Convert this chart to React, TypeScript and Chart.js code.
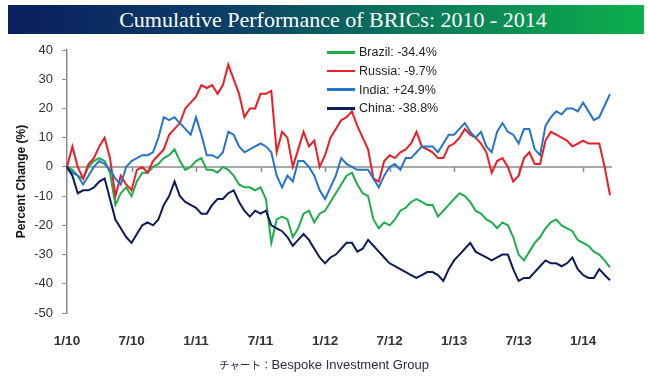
import React, { useEffect, useRef } from "react";
import { Chart, registerables } from "chart.js";
Chart.register(...registerables);

// Half-monthly observation dates
const dates = [
  "2010-01-01","2010-01-16","2010-02-01","2010-02-16","2010-03-01","2010-03-16","2010-04-01","2010-04-16",
  "2010-05-01","2010-05-16","2010-06-01","2010-06-16","2010-07-01","2010-07-16","2010-08-01","2010-08-16",
  "2010-09-01","2010-09-16","2010-10-01","2010-10-16","2010-11-01","2010-11-16","2010-12-01","2010-12-16",
  "2011-01-01","2011-01-16","2011-02-01","2011-02-16","2011-03-01","2011-03-16","2011-04-01","2011-04-16",
  "2011-05-01","2011-05-16","2011-06-01","2011-06-16","2011-07-01","2011-07-16","2011-08-01","2011-08-16",
  "2011-09-01","2011-09-16","2011-10-01","2011-10-16","2011-11-01","2011-11-16","2011-12-01","2011-12-16",
  "2012-01-01","2012-01-16","2012-02-01","2012-02-16","2012-03-01","2012-03-16","2012-04-01","2012-04-16",
  "2012-05-01","2012-05-16","2012-06-01","2012-06-16","2012-07-01","2012-07-16","2012-08-01","2012-08-16",
  "2012-09-01","2012-09-16","2012-10-01","2012-10-16","2012-11-01","2012-11-16","2012-12-01","2012-12-16",
  "2013-01-01","2013-01-16","2013-02-01","2013-02-16","2013-03-01","2013-03-16","2013-04-01","2013-04-16",
  "2013-05-01","2013-05-16","2013-06-01","2013-06-16","2013-07-01","2013-07-16","2013-08-01","2013-08-16",
  "2013-09-01","2013-09-16","2013-10-01","2013-10-16","2013-11-01","2013-11-16","2013-12-01","2013-12-16",
  "2014-01-01","2014-01-16","2014-02-01","2014-02-16","2014-03-01","2014-03-16",
];

const tickDates = ["2010-01-01","2010-07-01","2011-01-01","2011-07-01","2012-01-01","2012-07-01","2013-01-01","2013-07-01","2014-01-01"];
const tickLabels = ["1/10","7/10","1/11","7/11","1/12","7/12","1/13","7/13","1/14"];

const seriesNames = ["Brazil","Russia","India","China"];
const finalChanges = ["-34.4%","-9.7%","+24.9%","-38.8%"];
const seriesColors = ["#1fad4b","#ee1c24","#2574c8","#0b1c58"];

const brazil = [
  0,-1,-3,-4,0,2,3,2,-2,-13,-9,-7,-10,-5,-2,-2,0,1,3,4,6,2,-1,0,2,3,-1,-1,-2,0,-1,-3,-6,-7,-7,
  -8,-7,-11,-26,-18,-17,-18,-24,-21,-16,-15,-19,-16,-15,-12,-9,-6,-3,-2,-6,-9,-10,-18,-21,-19,-20,-18,-15,-14,-12,-11,-12,-13,
  -13,-17,-15,-13,-11,-9,-10,-12,-15,-16,-18,-19,-21,-19,-20,-24,-30,-32,-29,-26,-24,-21,-19,-18,-20,-21,-22,-25,-26,-27,-29,-30,-32,-34.4,
];
const russia = [
  0,7,0,-4,1,3,7,10,3,-10,-3,-6,-8,-1,0,-2,2,4,6,11,13,15,20,22,24,28,27,28,25,28,35,30,25,17,20,
  20,25,25,26,5,12,10,0,6,12,7,9,0,4,10,13,16,17,19,14,10,6,-4,-5,2,4,3,5,6,8,12,7,6,
  5,3,3,7,8,10,13,11,10,8,5,-2,2,3,0,-5,-3,3,5,1,1,9,12,11,10,9,7,8,9,8,8,8,0,-9.7,
];
const india = [
  0,-2,-3,-6,-3,0,2,1,-1,-4,-6,0,2,3,4,4,5,10,17,16,17,15,13,11,17,11,4,4,3,5,12,11,7,5,6,
  7,8,7,5,-3,-7,-3,-5,2,2,0,-3,-8,-11,-7,-3,3,1,0,-1,-1,-1,-4,-7,-3,0,1,-1,3,3,5,7,7,
  7,5,8,11,11,13,15,12,10,12,7,5,12,15,12,11,8,13,13,6,4,14,17,19,18,20,20,19,22,19,16,17,21,24.9,
];
const china = [
  0,-3,-9,-8,-8,-7,-5,-4,-11,-18,-21,-24,-26,-23,-20,-19,-20,-18,-13,-10,-5,-10,-12,-13,-14,-16,-16,-13,-11,-11,-9,-8,-12,-15,-17,
  -15,-16,-15,-20,-21,-22,-24,-27,-25,-23,-25,-28,-31,-33,-31,-30,-28,-26,-26,-29,-28,-25,-27,-29,-31,-33,-34,-35,-36,-37,-38,-37,-36,
  -36,-37,-39,-35,-32,-30,-28,-26,-29,-30,-31,-32,-31,-30,-30,-35,-39,-38,-38,-36,-34,-32,-33,-33,-34,-33,-31,-35,-37,-38,-38,-35,-37,-38.8,
];
const seriesValues = [brazil, russia, india, china];

const yMin = -50;
const yMax = 40;
const yStep = 10;

const titleText = "Cumulative Performance of BRICs: 2010 - 2014";
const yTitle = "Percent Change (%)";
const sourcePrefix = "チャート：";
const sourceName = "Bespoke Investment Group";

const axisGray = "#8c8c8c";

const zeroLinePlugin = {
  id: "zeroLine",
  beforeDatasetsDraw(chart: any) {
    const { ctx, chartArea, scales } = chart;
    const xs = scales.x;
    const ys = scales.y;
    const y0 = ys.getPixelForValue(0);
    ctx.save();
    ctx.strokeStyle = axisGray;
    ctx.lineWidth = 1.5;
    ctx.beginPath();
    ctx.moveTo(chartArea.left, y0);
    ctx.lineTo(chartArea.right + 2, y0);
    tickDates.forEach((d) => {
      const px = Math.round(xs.getPixelForValue(dates.indexOf(d))) + 0.5;
      ctx.moveTo(px, y0);
      ctx.lineTo(px, y0 + 5);
    });
    ctx.stroke();
    ctx.restore();
  },
};

export default function App() {
  const canvasRef = useRef<HTMLCanvasElement | null>(null);

  useEffect(() => {
    if (!canvasRef.current) return;
    const chart = new Chart(canvasRef.current, {
      type: "line",
      data: {
        labels: dates,
        datasets: seriesNames.map((name, i) => ({
          label: name,
          data: seriesValues[i],
          borderColor: seriesColors[i],
          backgroundColor: seriesColors[i],
          borderWidth: 2,
          pointRadius: 0,
          tension: 0,
          order: seriesNames.length - i,
        })),
      },
      options: {
        animation: false,
        responsive: false,
        maintainAspectRatio: false,
        events: [],
        layout: { padding: { left: 0, top: 50, right: 38, bottom: 0 } },
        plugins: { legend: { display: false }, tooltip: { enabled: false }, title: { display: false } },
        scales: {
          x: {
            type: "category",
            offset: false,
            grid: { display: false, drawTicks: false },
            border: { display: false },
            ticks: {
              autoSkip: false,
              maxRotation: 0,
              minRotation: 0,
              padding: 20,
              color: "#333333",
              font: { family: "'Liberation Sans', Arial, sans-serif", size: 13.5, weight: "bold" },
              callback: (_v: any, i: number) => {
                const k = tickDates.indexOf(dates[i]);
                return k >= 0 ? tickLabels[k] : "";
              },
            },
            afterFit: (s: any) => { s.height = 66; },
          },
          y: {
            min: yMin,
            max: yMax,
            grid: { drawOnChartArea: false, drawTicks: true, tickLength: 5, color: axisGray, lineWidth: 1 },
            border: { display: true, color: axisGray, width: 1.5 },
            ticks: {
              stepSize: yStep,
              padding: 9,
              color: "#333333",
              font: { family: "'Liberation Sans', Arial, sans-serif", size: 13 },
            },
            title: {
              display: true,
              text: yTitle,
              color: "#111111",
              font: { family: "'Liberation Sans', Arial, sans-serif", size: 12, weight: "bold" },
              padding: { top: 14, bottom: 0 },
            },
            afterFit: (s: any) => { s.width = 67; },
          },
        },
      },
      plugins: [zeroLinePlugin],
    } as any);
    return () => chart.destroy();
  }, []);

  return (
    <div style={{ position: "fixed", left: 0, top: 0, width: 648, height: 379, background: "#ffffff", overflow: "hidden" }}>
      <div
        style={{
          position: "absolute", left: 8, top: 5, width: 636, height: 29,
          background: "linear-gradient(to right, #0a1f5f 0%, #0b3f66 35%, #0b7a5a 65%, #0db04c 100%)",
          color: "#ffffff", fontFamily: "'Liberation Serif', 'DejaVu Serif', serif", fontSize: 22,
          lineHeight: "29px", textAlign: "center", whiteSpace: "nowrap",
        }}
      >
        <span style={{ position: "relative", left: 7 }}>{titleText}</span>
      </div>
      <canvas ref={canvasRef} width={648} height={379} style={{ position: "absolute", left: 0, top: 0, width: 648, height: 379 }} />
      <div style={{ position: "absolute", left: 327, top: 43, fontFamily: "'Liberation Sans', Arial, sans-serif", fontSize: 12.5, color: "#222222" }}>
        {seriesNames.map((name, i) => (
          <div key={name} style={{ display: "flex", alignItems: "center", height: 18.7 }}>
            <span style={{ display: "inline-block", width: 28, height: 2.5, background: seriesColors[i], marginRight: 4 }} />
            <span style={{ whiteSpace: "nowrap" }}>{`${name}: ${finalChanges[i]}`}</span>
          </div>
        ))}
      </div>
      <div style={{ position: "absolute", left: 0, top: 357, width: 648, textAlign: "center", fontFamily: "'Liberation Sans', Arial, sans-serif", fontSize: 13, color: "#2b2b45", whiteSpace: "nowrap", lineHeight: "16px" }}>
        <span style={{ fontFamily: "'Noto Sans CJK JP', sans-serif", fontSize: 10.5 }}>{sourcePrefix}</span>
        <span>{sourceName}</span>
      </div>
    </div>
  );
}
